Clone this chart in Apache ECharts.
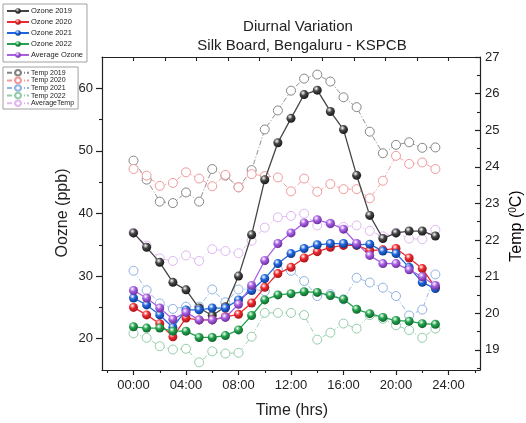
<!DOCTYPE html>
<html>
<head>
<meta charset="utf-8">
<script src="https://cdn.jsdelivr.net/npm/echarts@6/dist/echarts.min.js"></script>
<style>html,body{margin:0;padding:0;background:#fff}#c{width:526px;height:423px}</style>
</head>
<body>
<div id="c"></div>
<script>
// ---- data ----
const hours = [0,1,2,3,4,5,6,7,8,9,10,11,12,13,14,15,16,17,18,19,20,21,22,23];
const ozone2019 = [36.9,34.6,32.2,29.0,27.8,24.9,23.7,25.1,30.0,36.6,45.4,51.3,55.2,59.0,59.7,56.3,53.4,46.1,39.7,36.0,36.9,37.2,37.2,36.4];
const ozone2020 = [25.0,23.8,22.4,20.3,23.3,23.0,23.0,23.5,23.9,25.7,28.2,30.4,31.4,32.9,33.9,34.6,34.9,34.9,34.1,34.2,34.4,32.9,31.2,28.2];
const ozone2021 = [26.5,25.4,23.8,21.8,24.6,24.6,24.9,24.9,26.2,27.7,29.6,32.0,33.6,34.4,35.0,35.2,35.2,35.0,35.1,34.0,33.6,31.4,29.0,28.0];
const ozone2022 = [21.9,21.7,21.7,21.2,21.2,20.2,20.2,20.5,21.4,23.7,26.2,27.0,27.2,27.5,27.4,26.9,26.3,24.7,24.0,23.4,22.9,22.8,22.4,22.3];
const ozoneAvg  = [27.7,26.5,24.9,23.1,24.2,23.0,23.0,23.4,25.5,28.5,32.5,35.2,36.9,38.5,39.0,38.4,37.5,35.2,33.3,32.0,32.0,31.0,29.9,28.5];
const temp2019 = [24.17,23.65,23.05,23.01,23.30,23.05,23.94,23.76,23.44,23.91,25.02,25.54,26.08,26.41,26.52,26.33,25.90,25.63,24.96,24.37,24.60,24.67,24.52,24.53];
const temp2020 = [23.94,23.76,23.48,23.56,23.85,23.68,23.47,23.78,23.44,23.80,23.75,23.71,23.33,23.68,23.32,23.53,23.39,23.39,23.14,23.62,24.30,24.08,24.12,23.94];
const temp2021 = [21.16,20.63,20.27,20.12,20.18,20.18,20.65,20.30,20.65,20.67,20.6,21.2,21.16,20.88,20.47,20.52,20.38,20.97,20.84,20.70,20.47,19.94,20.10,21.06];
const temp2022 = [19.45,19.33,19.10,19.01,19.03,18.66,18.96,18.90,18.92,19.36,20.01,20.01,20.01,19.95,19.28,19.47,19.72,19.58,19.95,19.85,19.67,19.54,19.33,19.58];
const tempAvg  = [22.2,21.85,21.5,21.43,21.58,21.43,21.75,21.70,21.64,21.98,22.34,22.62,22.66,22.72,22.40,22.45,22.36,22.40,22.25,22.1,22.2,22.04,22.02,22.28];
const xLabelHours = [0,4,8,12,16,20,24];
const xMinorHours = [-2,2,6,10,14,18,22,26];
const xTopTicks = [0,2.4,4.8,7.2,9.6,12,14.4,16.8,19.2,21.6,24];
const ozoneTicks = [20,30,40,50,60];
const ozoneMinor = [25,35,45,55];
const tempTicks = [19,20,21,22,23,24,25,26,27];
const tempMinor = [18.5,19.5,20.5,21.5,22.5,23.5,24.5,25.5,26.5];

const ozoneNames = ['Ozone 2019','Ozone 2020','Ozone 2021','Ozone 2022','Average Ozone'];
const tempNames = ['Temp 2019','Temp 2020','Temp 2021','Temp 2022','AverageTemp'];
const ozoneData = [ozone2019,ozone2020,ozone2021,ozone2022,ozoneAvg];
const tempData = [temp2019,temp2020,temp2021,temp2022,tempAvg];
const ozoneColors = [['#454545','#111111'],['#ec2a30','#9a0f14'],['#2166dc','#0b2f80'],['#22a24d','#0c5a26'],['#a860e2','#5f2590']];
const tempColors = ['#858585','#f09a9a','#8fb3e2','#93cda9','#dfb8f0'];

const FONT = 'Liberation Sans, Arial, sans-serif';
const AX = '#222';

function sphere(c){
  return {type:'radial',x:0.38,y:0.32,r:0.75,colorStops:[
    {offset:0,color:'#ffffff'},{offset:0.4,color:c[0]},{offset:1,color:c[1]}]};
}
const pair = arr => hours.map((h,i)=>[h,arr[i]]);

const series = [];
tempNames.forEach((n,i)=>{
  series.push({name:n,type:'line',xAxisIndex:0,yAxisIndex:2,data:pair(tempData[i]),
    symbol:'circle',symbolSize:9,z:2,
    itemStyle:{color:'#ffffff',borderColor:tempColors[i],borderWidth:1},
    lineStyle:{color:tempColors[i],width:0.9,type:[5,2,1,2]}});
});
ozoneNames.forEach((n,i)=>{
  series.push({name:n,type:'line',xAxisIndex:0,yAxisIndex:0,data:pair(ozoneData[i]),
    symbol:'circle',symbolSize:9,z:3,
    itemStyle:{color:sphere(ozoneColors[i])},
    lineStyle:{color:ozoneColors[i][0],width:1.3}});
});

const chart = echarts.init(document.getElementById('c'),null,{renderer:'canvas'});
const axLine = {show:true,onZero:false,lineStyle:{color:AX,width:1.2}};
const noLine = {show:false,onZero:false};
chart.setOption({
  animation:false,
  backgroundColor:'#fff',
  textStyle:{fontFamily:FONT},
  grid:{left:102,right:46,top:57,bottom:53,containLabel:false},
  xAxis:[
    {type:'value',position:'bottom',min:-2.4,max:26.4,axisLine:axLine,splitLine:{show:false},
     axisTick:{show:true,inside:false,length:5,customValues:xLabelHours,lineStyle:{color:AX,width:1.2}},
     axisLabel:{customValues:xLabelHours,margin:9,fontSize:13,color:'#222',fontFamily:FONT,
       formatter:v=>String(v).padStart(2,'0')+':00'}},
    {type:'value',position:'bottom',min:-2.4,max:26.4,axisLine:noLine,splitLine:{show:false},
     axisTick:{show:true,length:3,customValues:xMinorHours,lineStyle:{color:AX,width:1.1}},
     axisLabel:{show:false}},
    {type:'value',position:'top',min:-2.4,max:26.4,axisLine:axLine,splitLine:{show:false},
     axisTick:{show:true,inside:true,length:4,customValues:xTopTicks,lineStyle:{color:AX,width:1.1}},
     axisLabel:{show:false}}
  ],
  yAxis:[
    {type:'value',position:'left',min:15,max:65,axisLine:axLine,splitLine:{show:false},
     axisTick:{show:true,length:6,customValues:ozoneTicks,lineStyle:{color:AX,width:1.2}},
     axisLabel:{customValues:ozoneTicks,margin:9,fontSize:13,color:'#222',fontFamily:FONT}},
    {type:'value',position:'left',min:15,max:65,axisLine:noLine,splitLine:{show:false},
     axisTick:{show:true,length:3,customValues:ozoneMinor,lineStyle:{color:AX,width:1.1}},
     axisLabel:{show:false}},
    {type:'value',position:'right',min:18.45,max:27,axisLine:axLine,splitLine:{show:false},
     axisTick:{show:true,inside:true,length:5,customValues:tempTicks,lineStyle:{color:AX,width:1.2}},
     axisLabel:{customValues:tempTicks,margin:5,fontSize:13,color:'#222',fontFamily:FONT}},
    {type:'value',position:'right',min:18.45,max:27,axisLine:noLine,splitLine:{show:false},
     axisTick:{show:true,inside:true,length:3,customValues:tempMinor,lineStyle:{color:AX,width:1.1}},
     axisLabel:{show:false}}
  ],
  legend:[
    {orient:'vertical',left:3,top:4,data:ozoneNames,itemWidth:22,itemHeight:7,itemGap:3,
     padding:[3,4,3,3],borderColor:'#a0a0a0',borderWidth:1,selectedMode:false,
     textStyle:{fontSize:7.5,color:'#222',fontFamily:FONT,padding:[0,0,0,-3]}},
    {orient:'vertical',left:3,top:67,data:tempNames,itemWidth:22,itemHeight:7,itemGap:0,
     padding:[2,4,2,3],borderColor:'#a0a0a0',borderWidth:1,selectedMode:false,
     textStyle:{fontSize:7,color:'#222',fontFamily:FONT,padding:[0,0,0,-3]}}
  ],
  graphic:[
    {type:'text',x:298,y:27,style:{text:'Diurnal Variation',font:'15px '+FONT,fill:'#222',textAlign:'center',textVerticalAlign:'middle'}},
    {type:'text',x:302,y:46,style:{text:'Silk Board, Bengaluru - KSPCB',font:'15px '+FONT,fill:'#222',textAlign:'center',textVerticalAlign:'middle'}},
    {type:'text',x:292,y:411,style:{text:'Time (hrs)',font:'16px '+FONT,fill:'#222',textAlign:'center',textVerticalAlign:'middle'}},
    {type:'text',x:63,y:213,rotation:Math.PI/2,style:{text:'Oozne (ppb)',font:'16px '+FONT,fill:'#222',textAlign:'center',textVerticalAlign:'middle'}},
    {type:'text',x:517,y:226,rotation:Math.PI/2,style:{
      text:'{a|Temp (}{s|0}{a|C)}',textAlign:'center',textVerticalAlign:'middle',
      rich:{a:{fontSize:16,fontFamily:FONT,color:'#222'},
            s:{fontSize:10,fontFamily:FONT,color:'#222',verticalAlign:'top',padding:[0,0,8,0]}}}}
  ],
  series:series
});
</script>
</body>
</html>
